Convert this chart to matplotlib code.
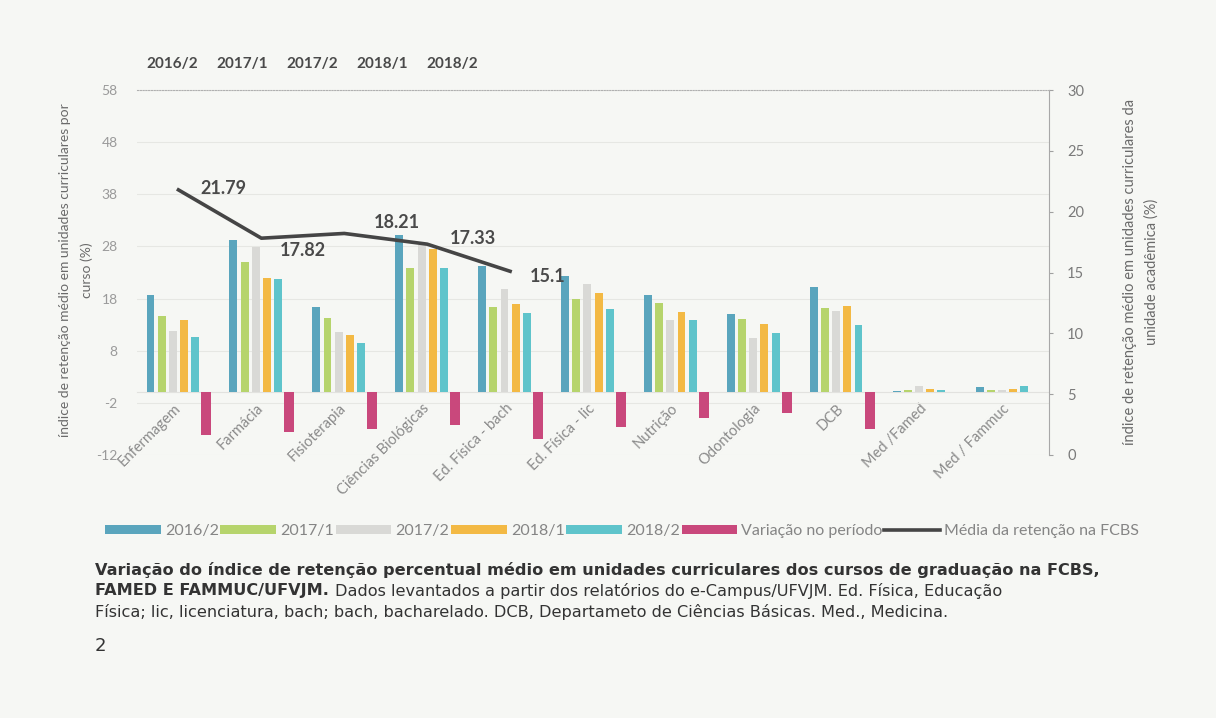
import matplotlib
matplotlib.use("Agg")
import matplotlib.pyplot as plt
import numpy as np
from matplotlib.patches import Patch
from matplotlib.lines import Line2D

plt.rcParams["font.family"] = ["Lato", "DejaVu Sans"]
plt.rcParams["axes.unicode_minus"] = False

# ---------------------------------------------------------------- data
cursos = ["Enfermagem", "Farmácia", "Fisioterapia", "Ciências Biológicas",
          "Ed. Física - bach", "Ed. Física - lic", "Nutrição", "Odontologia",
          "DCB", "Med /Famed", "Med / Fammuc"]
s2016_2 = [18.6, 29.3, 16.3, 30.1, 24.3, 22.4, 18.6, 15.1, 20.2, 0.3, 1.0]
s2017_1 = [14.7, 25.1, 14.3, 23.9, 16.3, 17.9, 17.1, 14.1, 16.2, 0.4, 0.4]
s2017_2 = [11.7, 27.8, 11.6, 28.2, 19.9, 20.8, 13.8, 10.5, 15.6, 1.3, 0.4]
s2018_1 = [13.8, 22.0, 11.1, 27.5, 16.9, 19.0, 15.4, 13.2, 16.5, 0.6, 0.6]
s2018_2 = [10.6, 21.8, 9.4, 23.9, 15.2, 16.0, 13.8, 11.4, 13.0, 0.4, 1.2]
variacao = [-8.2, -7.6, -7.0, -6.2, -9.0, -6.6, -4.9, -4.0, -7.0, 0.0, 0.0]

semestres = ["2016/2", "2017/1", "2017/2", "2018/1", "2018/2"]
media_fcbs = [21.79, 17.82, 18.21, 17.33, 15.1]

series_labels = ["2016/2", "2017/1", "2017/2", "2018/1", "2018/2",
                 "Variação no período"]
series_colors = ["#5aa5bd", "#b6d46c", "#d9d9d6", "#f3b944", "#5fc4cb", "#c9487c"]

# ---------------------------------------------------------------- figure
BG = "#f6f7f4"
fig = plt.figure(figsize=(12.16, 7.18), dpi=100, facecolor=BG)
W, H = 1216, 718
ax = fig.add_axes([137 / W, 1 - 455 / H, (1049 - 137) / W, (455 - 90) / H])
ax.set_facecolor("none")

x = np.arange(len(cursos))
step = 0.135
all_series = [s2016_2, s2017_1, s2017_2, s2018_1, s2018_2, variacao]
for i, (vals, col) in enumerate(zip(all_series, series_colors)):
    w = 0.12 if i == 5 else 0.095
    ax.bar(x + (i - 2.5) * step, vals, width=w, color=col, zorder=3)

ax.set_xlim(-0.5, len(cursos) - 0.5)
ax.set_ylim(-12, 58)
ax.set_yticks(np.arange(-12, 59, 10))
ax.grid(axis="y", color="#e6e7e3", lw=0.8, zorder=0)
ax.tick_params(axis="y", length=0, labelsize=10, labelcolor="#9a9a9a", pad=14)
for s in ("left", "right", "top"):
    ax.spines[s].set_visible(False)
ax.spines["bottom"].set_position(("data", 0))
ax.spines["bottom"].set_color("#e2e2df")
ax.set_xticks(x)
ax.set_xticklabels(cursos, rotation=45, ha="right", va="center",
                   rotation_mode="anchor", fontsize=10.5, color="#8a8a8a")
ax.tick_params(axis="x", length=0, pad=10)

# secondary axis: média FCBS
ax2 = ax.twinx()
ax2.plot(np.arange(len(media_fcbs)), media_fcbs, color="#454545", lw=2.6,
         zorder=5)
ax2.set_ylim(0, 30)
ax2.set_yticks(np.arange(0, 31, 5))
ax2.tick_params(axis="y", length=3, color="#a0a0a0", labelsize=10.5,
                labelcolor="#7a7a7a", pad=10)
for s in ("left", "top", "bottom"):
    ax2.spines[s].set_visible(False)
ax2.spines["right"].set_color("#a8a8a8")

label_offsets = [(16, 1), (13, -9), (21, 8), (16, 4), (14, -4)]
for xi, (v, off) in enumerate(zip(media_fcbs, label_offsets)):
    ax2.annotate(f"{v:g}", (xi, v), xytext=off, textcoords="offset points",
                 ha="left", va="center", fontsize=13, fontweight="bold",
                 color="#4a4a4a")

# top axis with semester labels
ax3 = ax.twiny()
ax3.set_xlim(0, 13)
ax3.set_xticks(np.arange(len(semestres)) + 0.5)
ax3.set_xticklabels(semestres, fontsize=11, fontweight="bold", color="#4a4a4a")
ax3.tick_params(axis="x", length=0, pad=14)
for s in ("left", "right", "bottom"):
    ax3.spines[s].set_visible(False)
ax3.spines["top"].set_color("#b0b0b0")
ax3.spines["top"].set_linestyle((0, (1, 1.5)))

# axis titles
fig.text(76 / W, 1 - 270 / H,
         "índice de retenção médio em unidades curriculares por\ncurso (%)",
         rotation=90, ha="center", va="center", fontsize=10, color="#6a6a6a",
         linespacing=1.9, multialignment="center")
fig.text(1141 / W, 1 - 272 / H,
         "índice de retenção médio em unidades curriculares da\nunidade acadêmica (%)",
         rotation=90, ha="center", va="center", fontsize=10.5, color="#6a6a6a",
         linespacing=1.6, multialignment="center")

# legend
handles = [Patch(facecolor=c, edgecolor="none") for c in series_colors]
handles.append(Line2D([], [], color="#454545", lw=2.6))
labels = series_labels + ["Média da retenção na FCBS"]
leg = fig.legend(handles, labels, loc="center", bbox_to_anchor=(622 / W, 1 - 531 / H),
                 ncol=7, frameon=False, fontsize=11.5, handlelength=3.5,
                 handleheight=0.5, handletextpad=0.25, columnspacing=0.1)
for t in leg.get_texts():
    t.set_color("#858585")

# caption
CAP = ["DejaVu Sans"]
CS = 11.6
cap_x = 95 / W
fig.text(cap_x, 1 - 570 / H,
         "Variação do índice de retenção percentual médio em unidades curriculares "
         "dos cursos de graduação na FCBS,",
         fontsize=CS, fontweight="bold", color="#333333", va="center", family=CAP)
bold2 = fig.text(cap_x, 1 - 591 / H, "FAMED E FAMMUC/UFVJM.", fontsize=CS,
                 fontweight="bold", color="#333333", va="center", family=CAP)
renderer = fig.canvas.get_renderer()
bb = bold2.get_window_extent(renderer=renderer)
fig.text(bb.x1 / W + 6 / W, 1 - 591 / H,
         "Dados levantados a partir dos relatórios do e-Campus/UFVJM. Ed. Física, Educação",
         fontsize=CS, color="#333333", va="center", family=CAP)
fig.text(cap_x, 1 - 612 / H,
         "Física; lic, licenciatura, bach; bach, bacharelado. DCB, Departameto de "
         "Ciências Básicas. Med., Medicina.",
         fontsize=CS, color="#333333", va="center", family=CAP)
fig.text(cap_x, 1 - 646 / H, "2", fontsize=13, color="#333333", va="center",
         family=CAP)

fig.savefig("out.png", dpi=100, facecolor=BG)
